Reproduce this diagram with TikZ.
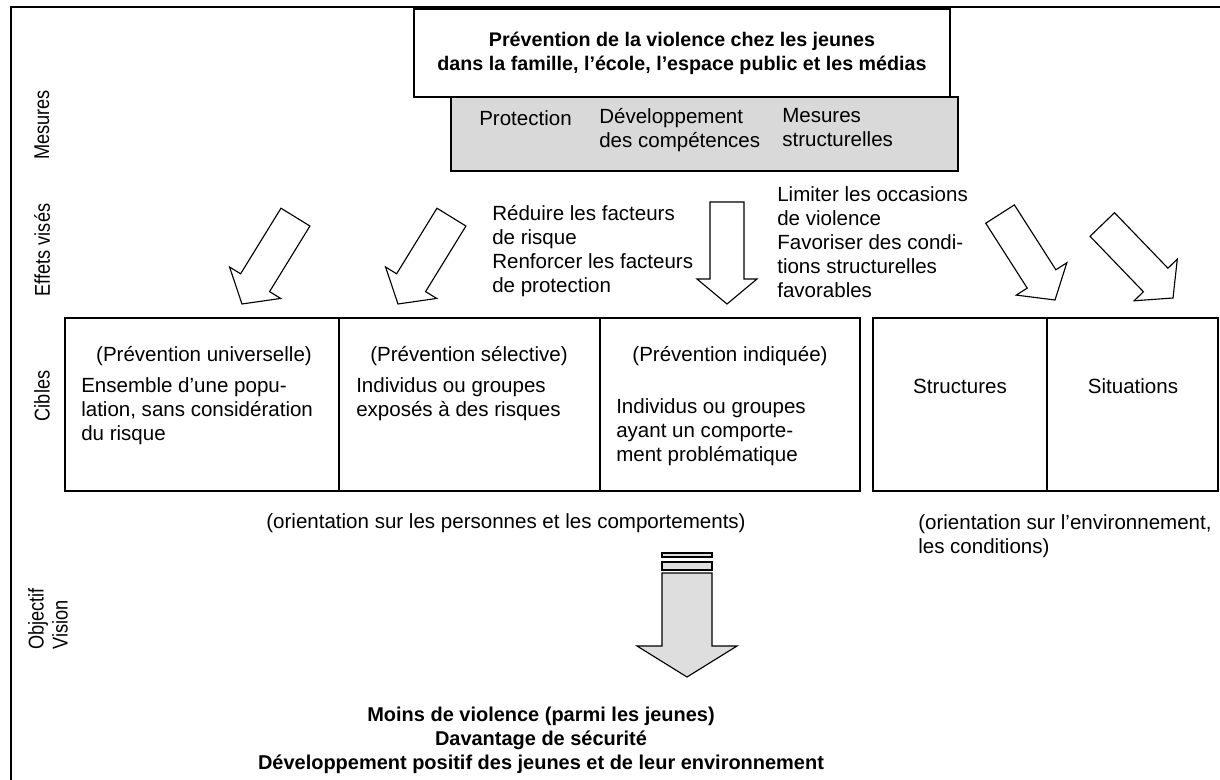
\documentclass[tikz,border=0pt]{standalone}
\usepackage{fontspec}
\setmainfont{Liberation Sans}
\newfontfamily\labelfamily[FakeStretch=0.85]{Liberation Sans}
\usetikzlibrary{positioning}

\newcommand\diagfont{\fontsize{14.6}{17.1}\selectfont}
\newcommand\diagtitle{\fontsize{14}{17.1}\selectfont\bfseries}
\newcommand\diaggoal{\fontsize{14.2}{17.1}\selectfont\bfseries}
\newcommand\diaglabel{\labelfamily\fontsize{15.2}{17.1}\selectfont}

\tikzset{
  txt/.style={align=left, anchor=north west, execute at begin node=\strut},
  sidelabel/.style={rotate=90, font=\diaglabel},
  frame/.style={line width=1.5pt},
  boxline/.style={line width=0.8pt},
  arrowline/.style={draw=black, line width=0.8pt, fill=white, line join=miter},
  bigarrow/.style={draw=black, line width=0.8pt, fill=black!13},
  pics/hollowarrow/.style={code={
    \draw[arrowline] (0,0) -- (-25,-30) -- (-25,-17) -- (-102,-17)
      -- (-102,17) -- (-25,17) -- (-25,30) -- cycle;
  }}
}

\begin{document}
\begin{tikzpicture}[x=0.025cm,y=-0.025cm,
  every node/.style={inner sep=0pt, font=\diagfont}]
\useasboundingbox (0,0) rectangle (1220,780);

% --- outer frame (only top and left are visible)
\draw[frame] (11,780) -- (11,7) -- (1220,7);

% --- side labels
\node[sidelabel] (lblmeasures) at (42,125) {Mesures};
\node[sidelabel] (lbleffects) at (42,250) {Effets visés};
\node[sidelabel] (lbltargets) at (42,396) {Cibles};
\node[sidelabel, align=left, anchor=west] (lblgoal) at (48,650) {Objectif\\Vision};

% --- measures: title box and grey box
\draw[boxline, fill=black!15] (451,97) rectangle (958,171);
\draw[boxline, fill=white] (414,9) rectangle (950,97);
\node[font=\diagtitle, align=center] (title) at (682,53)
  {Prévention de la violence chez les jeunes\\dans la famille, l’école, l’espace public et les médias};
\node[txt] (protection) at (479,108) {Protection};
\node[txt] (skills) at (599,108) {Développement\\des compétences};
\node[txt] (structural) at (782,108) {Mesures\\structurelles};

% --- intended effects
\node[txt] (riskfactors) at (492,205) {Réduire les facteurs\\de risque\\Renforcer les facteurs\\de protection};
\node[txt] (occasions) at (777,186) {Limiter les occasions\\de violence\\Favoriser des condi-\\tions structurelles\\favorables};

% ---- hollow arrows towards the targets
\pic[rotate=238.4] at (242,304) {hollowarrow};
\pic[rotate=238.4] at (398,304) {hollowarrow};
\pic[rotate=270] at (727,304) {hollowarrow};
\pic[rotate=302.6] at (1055,300) {hollowarrow};
\pic[rotate=313.9] at (1173,298) {hollowarrow};

% --- targets: person oriented table
\draw[boxline] (65,318) rectangle (860,491);
\draw[boxline] (339,318) -- (339,491);
\draw[boxline] (600,318) -- (600,491);
\node (universal) at (204,356) {(Prévention universelle)};
\node (selective) at (469,356) {(Prévention sélective)};
\node (indicated) at (730,356) {(Prévention indiquée)};
\node[txt] (population) at (81,377) {Ensemble d’une popu-\\lation, sans considération\\du risque};
\node[txt] (exposed) at (356,377) {Individus ou groupes\\exposés à des risques};
\node[txt] (problematic) at (616,398) {Individus ou groupes\\ayant un comporte-\\ment problématique};

% --- targets: environment oriented table
\draw[boxline] (873,318) rectangle (1218,491);
\draw[boxline] (1047,318) -- (1047,491);
\node (structures) at (960,386) {Structures};
\node (situations) at (1133,386) {Situations};

\node (persons) at (506,523) {(orientation sur les personnes et les comportements)};
\node[txt] (environment) at (918,514) {(orientation sur l’environnement,\\les conditions)};

% ---- big grey arrow to the goal
\draw[bigarrow] (662,553) rectangle (712,557);
\draw[bigarrow] (662,562) rectangle (712,570);
\draw[bigarrow] (662,573) -- (712,573) -- (712,646) -- (737,646) -- (687,677)
  -- (637,646) -- (662,646) -- cycle;

% --- goal / vision
\node[font=\diaggoal, align=center] (goal) at (541,740)
  {Moins de violence (parmi les jeunes)\\Davantage de sécurité\\Développement positif des jeunes et de leur environnement};
\end{tikzpicture}
\end{document}
